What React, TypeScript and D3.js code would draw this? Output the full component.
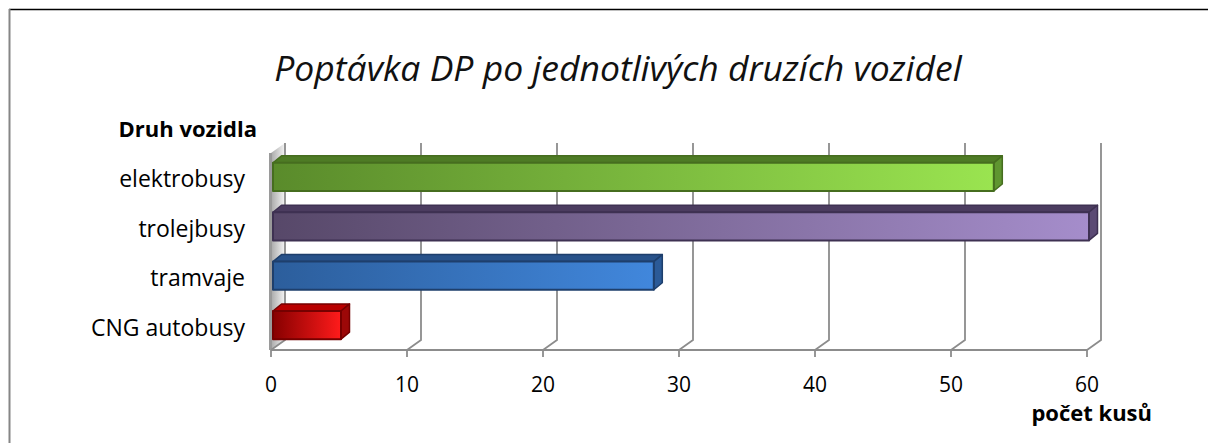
import * as d3 from "d3";

const title = "Poptávka DP po jednotlivých druzích vozidel";
const categoryTitle = "Druh vozidla";
const valueTitle = "počet kusů";
const categories = ["elektrobusy", "trolejbusy", "tramvaje", "CNG autobusy"];
const counts = [53, 60, 28, 5];
const tickValues = [0, 10, 20, 30, 40, 50, 60];

// front colour (dark, light), top face, end face, outline
const palette = [
  ["#5a8b2b", "#9ae450", "#4e7b25", "#5f9530", "#466d1f"],
  ["#574869", "#a58dcb", "#4b3c5f", "#5b4a74", "#3e3152"],
  ["#2c5e9c", "#4187dc", "#28528a", "#2b5a97", "#1e3f6c"],
  ["#860000", "#ff1b1b", "#b80000", "#9c0808", "#760000"],
];

const W = 1208;
const H = 443;
const font = "'Open Sans', 'DejaVu Sans', sans-serif";

// 3d offsets
const wallDX = 14;
const wallDY = -10;
const barDX = 8.5;
const barDY = -7;
const barShift = 2;

const floorY = 350;
const plotTop = 153;

const x = d3.scaleLinear().domain([0, 60]).range([271, 1087]);
const y = d3
  .scaleBand<string>()
  .domain(categories)
  .range([plotTop, floorY - 1])
  .paddingInner(0.43)
  .paddingOuter(0.2);

const pts = (p: number[][]) => p.map((d) => d.join(",")).join(" ");

export default function App() {
  const x0 = x(0);
  return (
    <svg
      width={W}
      height={H}
      style={{ position: "absolute", left: 0, top: 0, background: "#fff" }}
    >
      <defs>
        <linearGradient id="wall" x1="0" x2="1" y1="0" y2="0">
          <stop offset="0" stopColor="#a9a9a9" />
          <stop offset="1" stopColor="#f5f5f5" />
        </linearGradient>
        {palette.map((c, i) => (
          <linearGradient key={i} id={`bar${i}`} x1="0" x2="1" y1="0" y2="0">
            <stop offset="0" stopColor={c[0]} />
            <stop offset="1" stopColor={c[1]} />
          </linearGradient>
        ))}
      </defs>

      {/* chart frame */}
      <line x1={9} x2={W} y1={9.5} y2={9.5} stroke="#000" strokeWidth={1.5} />
      <line x1={9.5} x2={9.5} y1={9} y2={H} stroke="#868686" strokeWidth={2} />

      <text
        x={618}
        y={81}
        textAnchor="middle"
        fontFamily={font}
        fontStyle="italic"
        fontSize={35.5}
        fill="#111"
      >
        {title}
      </text>

      {/* side wall */}
      <polygon
        points={pts([
          [x0, plotTop],
          [x0 + wallDX, plotTop + wallDY],
          [x0 + wallDX, floorY + wallDY],
          [x0, floorY],
        ])}
        fill="url(#wall)"
      />
      <line
        x1={x0 - 0.5}
        x2={x0 - 0.5}
        y1={plotTop}
        y2={floorY}
        stroke="#9a9a9a"
        strokeWidth={3}
      />

      {/* gridlines: across the floor and up the back wall */}
      {tickValues.map((t) => (
        <polyline
          key={t}
          points={pts([
            [x(t), floorY],
            [x(t) + wallDX, floorY + wallDY],
            [x(t) + wallDX, plotTop + wallDY],
          ])}
          fill="none"
          stroke="#8c8c8c"
          strokeWidth={1.8}
        />
      ))}

      {/* axis line and ticks */}
      <line
        x1={x0}
        x2={x(60)}
        y1={floorY}
        y2={floorY}
        stroke="#8c8c8c"
        strokeWidth={2}
      />
      {tickValues.map((t) => (
        <g key={t}>
          <line
            x1={x(t)}
            x2={x(t)}
            y1={floorY}
            y2={floorY + 7}
            stroke="#8c8c8c"
            strokeWidth={1.8}
          />
          <text
            x={x(t)}
            y={392}
            textAnchor="middle"
            fontFamily={font}
            fontSize={21}
            fill="#000"
          >
            {t}
          </text>
        </g>
      ))}

      {/* bars */}
      {categories.map((c, i) => {
        const col = palette[i];
        const left = x0 + barShift;
        const right = x(counts[i]) + barShift;
        const top = y(c)!;
        const bottom = top + y.bandwidth();
        return (
          <g key={c} strokeLinejoin="round">
            <polygon
              points={pts([
                [left, top],
                [left + barDX, top + barDY],
                [right + barDX, top + barDY],
                [right, top],
              ])}
              fill={col[2]}
              stroke={col[4]}
              strokeWidth={1.5}
            />
            <polygon
              points={pts([
                [right, top],
                [right + barDX, top + barDY],
                [right + barDX, bottom + barDY],
                [right, bottom],
              ])}
              fill={col[3]}
              stroke={col[4]}
              strokeWidth={1.5}
            />
            <rect
              x={left}
              y={top}
              width={right - left}
              height={bottom - top}
              fill={`url(#bar${i})`}
              stroke={col[4]}
              strokeWidth={2}
            />
            <text
              x={245}
              y={top + y.bandwidth() / 2 + 10.5}
              textAnchor="end"
              fontFamily={font}
              fontSize={23}
              fill="#000"
            >
              {c}
            </text>
          </g>
        );
      })}

      <text
        x={257}
        y={137}
        textAnchor="end"
        fontFamily={font}
        fontWeight="bold"
        fontSize={22}
        fill="#000"
      >
        {categoryTitle}
      </text>
      <text
        x={1152}
        y={421}
        textAnchor="end"
        fontFamily={font}
        fontWeight="bold"
        fontSize={22}
        fill="#000"
      >
        {valueTitle}
      </text>
    </svg>
  );
}
